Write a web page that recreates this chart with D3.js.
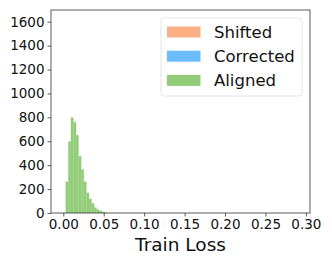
<!DOCTYPE html>
<html>
<head>
<meta charset="utf-8">
<script src="https://cdn.jsdelivr.net/npm/d3@7"></script>
<style>
  body { margin: 0; background: #fff; }
  text { font-family: "DejaVu Sans", sans-serif; fill: #111; }
</style>
</head>
<body>
<div id="chart"></div>
<script>
// histogram bin edges (train loss) and counts per series
const binEdges = [0.003, 0.0062, 0.0094, 0.0126, 0.0158, 0.019, 0.0222, 0.0254, 0.0286,
  0.0318, 0.035, 0.0382, 0.0414, 0.0446, 0.0478, 0.051, 0.0542];
const shiftedCounts = [];
const correctedCounts = [];
const alignedCounts = [262, 597, 797, 760, 650, 475, 365, 262, 170, 118, 82, 45, 28, 18, 9, 4];

const seriesNames = ["Shifted", "Corrected", "Aligned"];
const xTicks = [0, 0.05, 0.1, 0.15, 0.2, 0.25, 0.3];
const yTicks = [0, 200, 400, 600, 800, 1000, 1200, 1400, 1600];

const W = 332, H = 266,
  margin = { top: 10, right: 22, bottom: 53, left: 51 },
  width = W - margin.left - margin.right,
  height = H - margin.top - margin.bottom,
  colors = ["#FDAF86", "#6BBDFD", "#93CC78"];

const svg = d3.select("#chart").append("svg")
  .attr("width", W).attr("height", H);

const g = svg.append("g")
  .attr("transform", "translate(" + margin.left + "," + margin.top + ")");

const x = d3.scaleLinear().domain([-0.0152, 0.3051]).range([0, width]);
const y = d3.scaleLinear().domain([0, 1698]).range([height, 0]);

const series = [shiftedCounts, correctedCounts, alignedCounts];
series.forEach((counts, si) => {
  g.selectAll(".bar-" + si)
    .data(counts)
    .enter()
    .append("rect")
    .attr("class", "bar-" + si)
    .attr("x", (d, i) => x(binEdges[i]))
    .attr("width", (d, i) => x(binEdges[i + 1]) - x(binEdges[i]))
    .attr("y", d => y(d))
    .attr("height", d => height - y(d))
    .style("fill", colors[si])
    .style("stroke", "#a6d690")
    .style("stroke-width", 0.2);
});

// axes
const xAxis = g.append("g")
  .attr("transform", "translate(0," + height + ")")
  .call(d3.axisBottom(x).tickValues(xTicks).tickFormat(d3.format(".2f")).tickSizeOuter(0).tickSize(3.5).tickPadding(3));
const yAxis = g.append("g")
  .call(d3.axisLeft(y).tickValues(yTicks).tickFormat(d3.format("d")).tickSizeOuter(0).tickSize(3.5).tickPadding(3));

[xAxis, yAxis].forEach(a => {
  a.select(".domain").remove();
  a.selectAll("line").attr("stroke", "#333").attr("stroke-width", 0.8);
  a.selectAll("text").style("font-size", "13.5px").attr("fill", "#111");
});

// frame
g.append("rect")
  .attr("width", width).attr("height", height)
  .attr("fill", "none").attr("stroke", "#333").attr("stroke-width", 0.8);

g.append("text")
  .attr("x", width / 2).attr("y", 241)
  .attr("text-anchor", "middle")
  .style("font-size", "18.5px")
  .text("Train Loss");

// legend
const legend = svg.append("g").attr("transform", "translate(161,18)");
legend.append("rect")
  .attr("width", 141).attr("height", 78).attr("rx", 3)
  .attr("fill", "#fff").attr("stroke", "#ddd").attr("stroke-width", 0.8);

seriesNames.forEach((name, i) => {
  legend.append("rect")
    .attr("x", 6).attr("y", 8.5 + i * 24.2)
    .attr("width", 33.5).attr("height", 11)
    .attr("fill", colors[i]);
  legend.append("text")
    .attr("x", 53).attr("y", 20 + i * 24.2)
    .style("font-size", "16.5px")
    .text(name);
});
</script>
</body>
</html>
